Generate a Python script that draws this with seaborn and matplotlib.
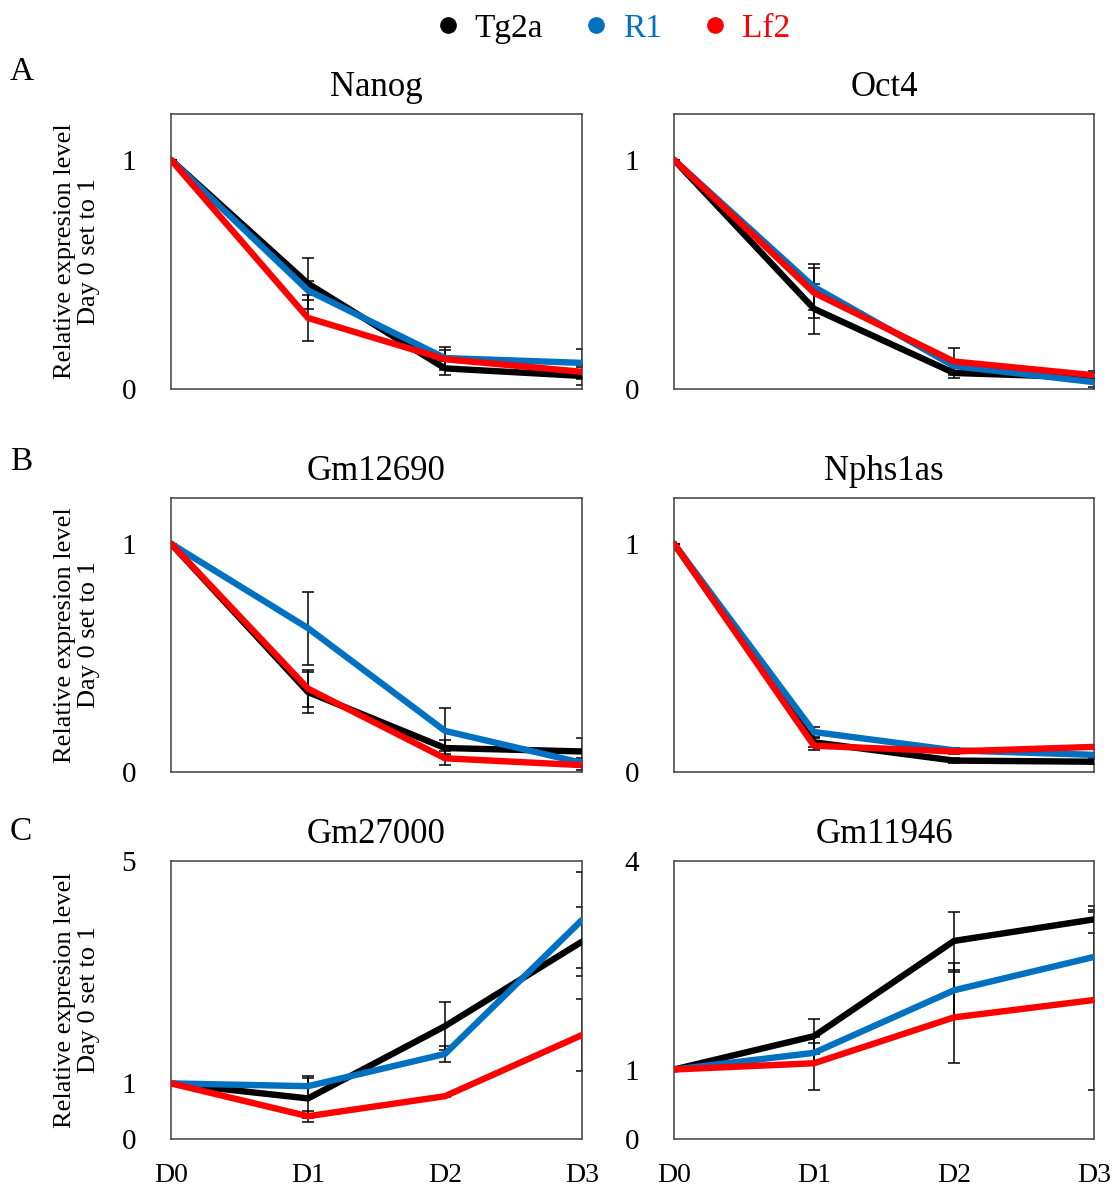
import numpy as np
import pandas as pd
import seaborn as sns
import matplotlib.pyplot as plt
from matplotlib.lines import Line2D

days = ["D0", "D1", "D2", "D3"]
lines = ["Tg2a", "R1", "Lf2"]
colors = {"Tg2a": "#000000", "R1": "#0070C0", "Lf2": "#FF0000"}

# mean relative expression (day 0 = 1)
nanog = {"Tg2a": [1, 0.46, 0.09, 0.057], "R1": [1, 0.43, 0.135, 0.114], "Lf2": [1, 0.31, 0.13, 0.075]}
oct4 = {"Tg2a": [1, 0.35, 0.07, 0.05], "R1": [1, 0.445, 0.10, 0.03], "Lf2": [1, 0.42, 0.12, 0.06]}
gm12690 = {"Tg2a": [1, 0.35, 0.105, 0.09], "R1": [1, 0.63, 0.18, 0.04], "Lf2": [1, 0.365, 0.06, 0.03]}
nphs1as = {"Tg2a": [1, 0.13, 0.05, 0.045], "R1": [1, 0.175, 0.095, 0.075], "Lf2": [1, 0.115, 0.09, 0.11]}
gm27000 = {"Tg2a": [1, 0.73, 2.03, 3.55], "R1": [1, 0.95, 1.53, 3.94], "Lf2": [1, 0.41, 0.77, 1.87]}
gm11946 = {"Tg2a": [1, 1.48, 2.85, 3.16], "R1": [1, 1.24, 2.14, 2.62], "Lf2": [1, 1.09, 1.75, 2.0]}

# error bar half-lengths
nanog_err = {"Tg2a": [0, 0.11, 0.03, 0.04], "R1": [0, 0.04, 0.05, 0.06], "Lf2": [0, 0.10, 0.04, 0.03]}
oct4_err = {"Tg2a": [0, 0.11, 0.02, 0.02], "R1": [0, 0.10, 0.02, 0.02], "Lf2": [0, 0.11, 0.06, 0.02]}
gm12690_err = {"Tg2a": [0, 0.09, 0.035, 0.06], "R1": [0, 0.16, 0.10, 0.02], "Lf2": [0, 0.08, 0.03, 0.02]}
nphs1as_err = {"Tg2a": [0, 0.02, 0.01, 0.01], "R1": [0, 0.02, 0.01, 0.01], "Lf2": [0, 0.02, 0.01, 0.01]}
gm27000_err = {"Tg2a": [0, 0.36, 0.43, 0.62], "R1": [0, 0.18, 0.14, 0.86], "Lf2": [0, 0.10, 0.02, 0.65]}
gm11946_err = {"Tg2a": [0, 0.25, 0.42, 0.19], "R1": [0, 0.14, 0.39, 0.64], "Lf2": [0, 0.38, 0.66, 1.29]}

panels = [
    ("Nanog", nanog, nanog_err, 1.2, [0, 1]),
    ("Oct4", oct4, oct4_err, 1.2, [0, 1]),
    ("Gm12690", gm12690, gm12690_err, 1.2, [0, 1]),
    ("Nphs1as", nphs1as, nphs1as_err, 1.2, [0, 1]),
    ("Gm27000", gm27000, gm27000_err, 5, [0, 1, 5]),
    ("Gm11946", gm11946, gm11946_err, 4, [0, 1, 4]),
]

sns.set_theme(style="white")
plt.rcParams["font.family"] = ["Liberation Serif", "DejaVu Serif"]
plt.rcParams.update({"text.color": "black", "axes.labelcolor": "black",
                     "xtick.color": "black", "ytick.color": "black"})

fig = plt.figure(figsize=(11.16, 11.92), dpi=100)

W, H = 1116, 1192
col_x = [(171, 582), (674, 1094)]
row_y = [(114, 389), (498, 772), (861, 1139)]


def to_df(means):
    rows = []
    for name in lines:
        for i, d in enumerate(days):
            rows.append({"day": i, "value": means[name][i], "line": name})
    return pd.DataFrame(rows)


for k, (title, means, errs, ymax, yt) in enumerate(panels):
    r, c = divmod(k, 2)
    x0, x1 = col_x[c]
    yt0, yb0 = row_y[r]
    ax = fig.add_axes([x0 / W, 1 - yb0 / H, (x1 - x0) / W, (yb0 - yt0) / H])

    for name in lines:
        ax.errorbar(range(4), means[name], yerr=errs[name], fmt="none", ecolor="black",
                    elinewidth=1.1, capsize=4.5, capthick=1.1, zorder=1.5)

    sns.lineplot(data=to_df(means), x="day", y="value", hue="line", hue_order=lines,
                 palette=colors, linewidth=4.6, legend=False, ax=ax, zorder=3)

    ax.set_xlim(0, 3)
    ax.set_ylim(0, ymax)
    ax.set_yticks(yt)
    ax.set_yticklabels([str(v) for v in yt], fontsize=21)
    ax.tick_params(axis="y", length=0, pad=25)
    if r == 2:
        ax.set_xticks(range(4))
        ax.set_xticklabels(days, fontsize=20)
        ax.tick_params(axis="x", length=0, pad=17)
    else:
        ax.set_xticks([])
    ax.set_xlabel("")
    ax.set_ylabel("")
    ax.set_title(title, fontsize=25, pad=13)
    for s in ax.spines.values():
        s.set_color("#404040")
        s.set_linewidth(1.1)
    if c == 0:
        ax.text(-0.229, 0.5, "Relative expresion level\nDay 0 set to 1", transform=ax.transAxes,
                rotation=90, ha="center", va="center", fontsize=19, linespacing=1.15)

for lab, yb in [("A", 80), ("B", 470), ("C", 840)]:
    fig.text(10 / W, 1 - yb / H, lab, fontsize=24, ha="left", va="baseline")

handles = [Line2D([], [], linestyle="none", marker="o", markersize=11, color=colors[n]) for n in lines]
fig.legend(handles, lines, loc="center", bbox_to_anchor=(0.55, 0.976), ncol=3, frameon=False,
           fontsize=24, labelcolor=[colors[n] for n in lines], handlelength=0.6,
           handletextpad=0.5, columnspacing=1.3)

fig.savefig("out.png", dpi=100)
